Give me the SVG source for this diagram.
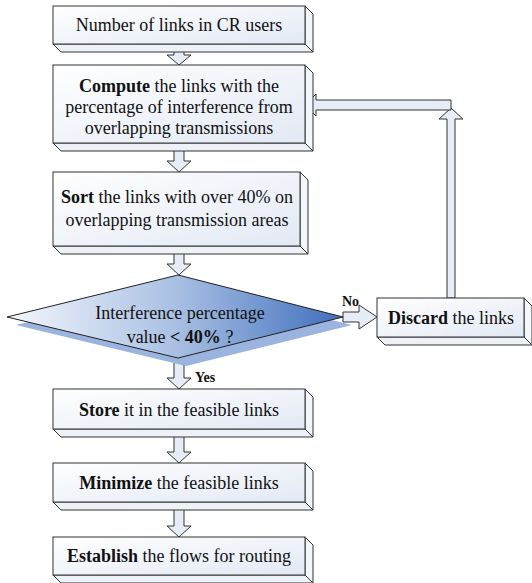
<svg xmlns="http://www.w3.org/2000/svg" width="532" height="583" viewBox="0 0 532 583">
<defs>
<linearGradient id="gFront" x1="0" y1="0" x2="1" y2="1">
<stop offset="0" stop-color="#ffffff"/>
<stop offset="1" stop-color="#e2e9f4"/>
</linearGradient>
<linearGradient id="gDia" x1="0" y1="0" x2="1" y2="0">
<stop offset="0" stop-color="#f4f7fc"/>
<stop offset="0.5" stop-color="#a9c0e3"/>
<stop offset="1" stop-color="#3f6fbd"/>
</linearGradient>
</defs>
<style>
.front{fill:url(#gFront);stroke:#333;stroke-width:1}
.side{fill:#f3f6fb;stroke:#333;stroke-width:1}
.bot{fill:#edf1f8;stroke:#333;stroke-width:1}
.arr{fill:#e6edf6;stroke:#333;stroke-width:1}
text{font-family:"Liberation Serif","Times New Roman",serif;font-size:18px;fill:#111;text-anchor:middle}
.b{font-weight:bold}
.lbl{font-size:14px;font-weight:bold;text-anchor:start}
</style>

<g id="connectors">
<path class="arr" d="M174,44 V55 H167 L179,65 L191,55 H184 V44 Z"/>
<path class="arr" d="M174,142 V161 H167 L179,172 L191,161 H184 V142 Z"/>
<path class="arr" d="M174,246 V264 H167 L179,275 L191,264 H184 V246 Z"/>
<path class="arr" d="M174,356 V378 H167 L179,389 L191,378 H184 V356 Z"/>
<path class="arr" d="M174,428 V452 H167 L179,463 L191,452 H184 V428 Z"/>
<path class="arr" d="M174,502 V526 H167 L179,537 L191,526 H184 V502 Z"/>
<path class="arr" d="M343,312 H359 V305 L377,317 L359,329 V322 H343 Z"/>
<path class="arr" d="M447,298 V119 H439 L451,108 L463,119 H455 V298 Z"/>
<path class="arr" d="M451,110 H316 V116 L305,105 L316,94 V100 H451 Z"/>
<text class="lbl" x="342" y="306">No</text>
<text class="lbl" x="195" y="382">Yes</text>
</g>

<g id="n1">
<polygon class="side" points="305,6 313,14 313,52 305,44"/>
<polygon class="bot" points="53,44 305,44 313,52 61,52"/>
<rect class="front" x="53" y="6" width="252" height="38"/>
<text x="179" y="31">Number of links in CR users</text>
</g>

<g id="n2">
<polygon class="side" points="305,65 313,73 313,151 305,143"/>
<polygon class="bot" points="53,143 305,143 313,151 61,151"/>
<rect class="front" x="53" y="65" width="252" height="78"/>
<text x="179" y="92"><tspan class="b">Compute</tspan> the links with the</text>
<text x="179" y="113">percentage of interference from</text>
<text x="179" y="134">overlapping transmissions</text>
</g>

<g id="n3">
<polygon class="side" points="300,172 308,180 308,254 300,246"/>
<polygon class="bot" points="53,246 300,246 308,254 61,254"/>
<rect class="front" x="53" y="172" width="247" height="74"/>
<text x="177" y="203"><tspan class="b">Sort</tspan> the links with over 40% on</text>
<text x="177" y="226">overlapping transmission areas</text>
</g>

<g id="n4">
<polygon points="16,325 186,284 352,325 186,366" fill="#9ab4df"/>
<polygon points="7,317 178,275 343,317 178,358" fill="url(#gDia)" stroke="#222" stroke-width="1"/>
<text x="180" y="319">Interference percentage</text>
<text x="180" y="343">value <tspan class="b">&lt; 40%</tspan> ?</text>
</g>

<g id="n5">
<polygon class="side" points="524,298 532,306 532,345 524,337"/>
<polygon class="bot" points="377,337 524,337 532,345 385,345"/>
<rect class="front" x="377" y="298" width="147" height="39"/>
<text x="451" y="324"><tspan class="b">Discard</tspan> the links</text>
</g>

<g id="n6">
<polygon class="side" points="305,389 313,397 313,437 305,429"/>
<polygon class="bot" points="53,429 305,429 313,437 61,437"/>
<rect class="front" x="53" y="389" width="252" height="40"/>
<text x="179" y="416"><tspan class="b">Store</tspan> it in the feasible links</text>
</g>

<g id="n7">
<polygon class="side" points="305,463 313,471 313,510 305,502"/>
<polygon class="bot" points="53,502 305,502 313,510 61,510"/>
<rect class="front" x="53" y="463" width="252" height="39"/>
<text x="179" y="489"><tspan class="b">Minimize</tspan> the feasible links</text>
</g>

<g id="n8">
<polygon class="side" points="305,537 313,545 313,583 305,575"/>
<polygon class="bot" points="53,575 305,575 313,583 61,583"/>
<rect class="front" x="53" y="537" width="252" height="38"/>
<text x="179" y="562"><tspan class="b">Establish</tspan> the flows for routing</text>
</g>
</svg>
